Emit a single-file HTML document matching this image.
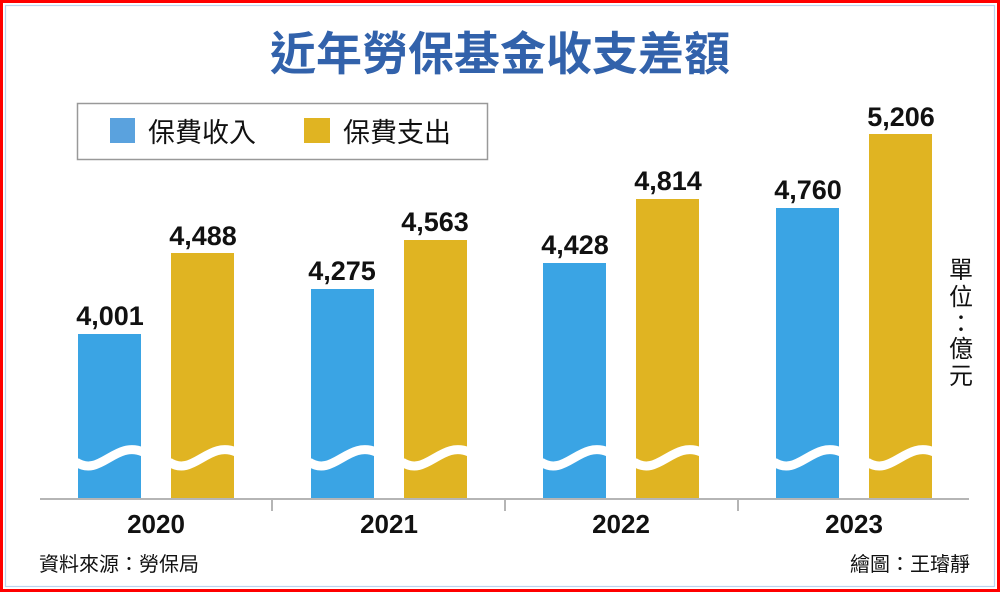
<!DOCTYPE html>
<html><head><meta charset="utf-8"><style>
html,body{margin:0;padding:0;background:#fff;}
svg{display:block;}
</style></head><body>
<svg width="1000" height="592" viewBox="0 0 1000 592" xmlns="http://www.w3.org/2000/svg">
<rect x="1.5" y="1.5" width="997" height="589" fill="#fff" stroke="#ff0000" stroke-width="3"/>
<rect x="5.5" y="5.5" width="989" height="581" fill="none" stroke="#b9d3ee" stroke-width="1.2"/>
<text x="500" y="70" text-anchor="middle" font-family="'Liberation Sans','Noto Sans CJK TC',sans-serif" font-size="46" font-weight="600" fill="#3262ab">近年勞保基金收支差額</text>
<rect x="77.5" y="103.5" width="410" height="56" fill="#fff" stroke="#999" stroke-width="1.5"/>
<rect x="110" y="118" width="25" height="25" fill="#5aa2de"/>
<rect x="304" y="118" width="26" height="25" fill="#e0b422"/>
<g font-family="'Liberation Sans','Noto Sans CJK TC',sans-serif" font-size="27" fill="#111">
<text x="148" y="142">保費收入</text>
<text x="343" y="142">保費支出</text>
</g>
<g fill="#3aa4e4">
<rect x="78" y="334" width="63" height="164"/>
<rect x="311" y="289" width="63" height="209"/>
<rect x="543" y="263" width="63" height="235"/>
<rect x="776" y="208" width="63" height="290"/>
</g>
<g fill="#e0b422">
<rect x="171" y="253" width="63" height="245"/>
<rect x="404" y="240" width="63" height="258"/>
<rect x="636" y="199" width="63" height="299"/>
<rect x="869" y="134" width="63" height="364"/>
</g>
<g fill="none" stroke="#fff" stroke-width="9">
<path d="M76,462 C100,478 115,440 143,452"/>
<path d="M169,462 C193,478 208,440 236,452"/>
<path d="M309,462 C333,478 348,440 376,452"/>
<path d="M402,462 C426,478 441,440 469,452"/>
<path d="M541,462 C565,478 580,440 608,452"/>
<path d="M634,462 C658,478 673,440 701,452"/>
<path d="M774,462 C798,478 813,440 841,452"/>
<path d="M867,462 C891,478 906,440 934,452"/>
</g>
<g stroke="#b5b5b5" stroke-width="2">
<line x1="40" y1="499" x2="969" y2="499"/>
<line x1="272" y1="499" x2="272" y2="511"/>
<line x1="505" y1="499" x2="505" y2="511"/>
<line x1="738" y1="499" x2="738" y2="511"/>
</g>
<g font-family="'Liberation Sans','Noto Sans CJK TC',sans-serif" font-size="27" font-weight="bold" fill="#111" text-anchor="middle">
<text x="110" y="325">4,001</text>
<text x="203" y="245">4,488</text>
<text x="342" y="280">4,275</text>
<text x="435" y="231">4,563</text>
<text x="575" y="254">4,428</text>
<text x="668" y="190">4,814</text>
<text x="808" y="199">4,760</text>
<text x="901" y="126">5,206</text>
</g>
<g font-family="'Liberation Sans','Noto Sans CJK TC',sans-serif" font-size="26" font-weight="600" fill="#111" text-anchor="middle">
<text x="156" y="533">2020</text>
<text x="389" y="533">2021</text>
<text x="621" y="533">2022</text>
<text x="854" y="533">2023</text>
</g>
<g font-family="'Liberation Sans','Noto Sans CJK TC',sans-serif" font-size="24" fill="#111" text-anchor="middle">
<text x="961" y="278">單</text>
<text x="961" y="305">位</text>
<text x="961" y="332">：</text>
<text x="961" y="357">億</text>
<text x="961" y="384">元</text>
</g>
<g font-family="'Liberation Sans','Noto Sans CJK TC',sans-serif" font-size="20" fill="#111">
<text x="39" y="571">資料來源：勞保局</text>
<text x="970" y="571" text-anchor="end">繪圖：王璿靜</text>
</g>
</svg>
</body></html>
